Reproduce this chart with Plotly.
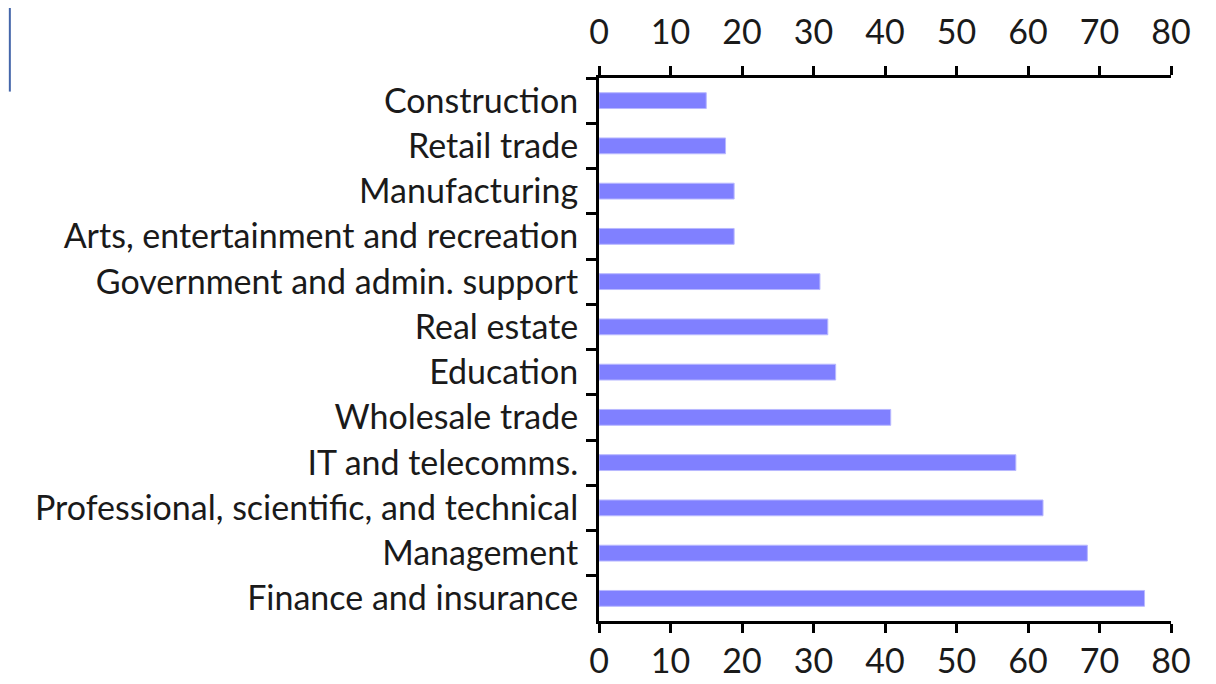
import plotly.graph_objects as go

# sectors, top to bottom as shown
sectors = [
    "Construction",
    "Retail trade",
    "Manufacturing",
    "Arts, entertainment and recreation",
    "Government and admin. support",
    "Real estate",
    "Education",
    "Wholesale trade",
    "IT and telecomms.",
    "Professional, scientific, and technical",
    "Management",
    "Finance and insurance",
]
values = [15.0, 17.7, 18.9, 18.9, 30.9, 32.0, 33.1, 40.8, 58.3, 62.1, 68.3, 76.3]
x_ticks = [0, 10, 20, 30, 40, 50, 60, 70, 80]

font = dict(family="Lato, 'Open Sans', sans-serif", size=34, color="#1a1a1a")

fig = go.Figure()
fig.add_trace(go.Bar(
    x=values, y=sectors, orientation="h",
    marker=dict(color="#8080ff", line=dict(color="#b8b8ff", width=1)),
    width=0.35, hoverinfo="x+y",
))
# dummy trace so the top axis is drawn
fig.add_trace(go.Scatter(x=[0], y=[sectors[0]], xaxis="x2", mode="markers",
                         marker=dict(opacity=0, size=1), showlegend=False, hoverinfo="skip"))

axis_x = dict(
    range=[0, 80], tickvals=x_ticks, showgrid=False, zeroline=False,
    showline=True, linecolor="black", linewidth=3,
    ticks="outside", ticklen=9, tickwidth=3, tickcolor="black",
    tickfont=font, automargin=False,
)

# the page puts the figure 8px in from the top-left corner
fig.update_layout(
    width=1208, height=676,
    margin=dict(l=591, r=45, t=70, b=63),
    paper_bgcolor="white", plot_bgcolor="white",
    showlegend=False,
    xaxis=dict(**axis_x, side="bottom", ticklabelstandoff=-1),
    xaxis2=dict(**axis_x, side="top", overlaying="x", matches="x", ticklabelstandoff=8),
    yaxis=dict(
        categoryorder="array", categoryarray=sectors,
        range=[len(sectors) - 0.5, -0.5],
        showgrid=False, zeroline=False, automargin=False,
        showline=True, linecolor="black", linewidth=3,
        ticks="outside", tickson="boundaries", ticklen=10, tickwidth=3, tickcolor="black",
        tickfont=font, ticklabelstandoff=11,
    ),
    shapes=[
        dict(type="line", xref="paper", yref="paper", x0=-1.03, x1=-1.03, y0=0.975, y1=1.13,
             line=dict(color="#4466aa", width=2)),
    ],
)

fig.write_html("out.html")
